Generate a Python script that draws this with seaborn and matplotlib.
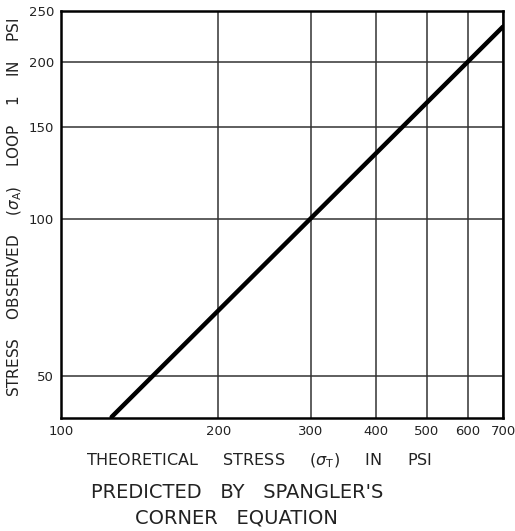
import matplotlib
matplotlib.use("Agg")
import matplotlib.pyplot as plt
from matplotlib.ticker import FixedLocator, NullLocator
import seaborn as sns
import pandas as pd

# Spangler's corner equation: observed stress vs theoretical stress (psi)
theoretical_psi = [125, 700]
observed_psi = [41.7, 233.3]

x_ticks = [100, 200, 300, 400, 500, 600, 700]
y_ticks = [50, 100, 150, 200, 250]

sns.set_theme(style="white")
plt.rcParams["font.family"] = ["DejaVu Sans"]

df = pd.DataFrame({"theoretical": theoretical_psi, "observed": observed_psi})

fig = plt.figure(figsize=(5.15, 5.31), dpi=100)
ax = fig.add_axes([0.1184, 0.2128, 0.8583, 0.7665])

sns.lineplot(data=df, x="theoretical", y="observed", ax=ax,
             color="black", linewidth=3.2, zorder=3)

ax.set_xscale("log")
ax.set_yscale("log")
ax.set_xlim(100, 700)
ax.set_ylim(41.5, 250)

ax.xaxis.set_major_locator(FixedLocator(x_ticks))
ax.yaxis.set_major_locator(FixedLocator(y_ticks))
ax.xaxis.set_minor_locator(NullLocator())
ax.yaxis.set_minor_locator(NullLocator())
ax.set_xticklabels([str(v) for v in x_ticks], fontsize=9.5, color="#222222")
ax.set_yticklabels([str(v) for v in y_ticks], fontsize=9.5, color="#222222")
ax.tick_params(axis="both", length=0, pad=5)

ax.grid(True, which="major", color="#333333", linewidth=1.1)
for s in ax.spines.values():
    s.set_visible(True)
    s.set_color("black")
    s.set_linewidth(1.8)

ax.set_xlabel("")
ax.set_ylabel("")

fig.text(0.502, 0.133, r"THEORETICAL     STRESS     $(\sigma_{\mathrm{T}})$     IN     PSI",
         ha="center", va="center", fontsize=11.5, color="#222222")
fig.text(0.028, 0.61, r"STRESS    OBSERVED    $(\sigma_{\mathrm{A}})$    LOOP    1    IN    PSI",
         ha="center", va="center", rotation=90, fontsize=11, color="#222222")
fig.text(0.460, 0.072, "PREDICTED   BY   SPANGLER'S", ha="center", va="center",
         fontsize=14, color="#222222")
fig.text(0.460, 0.025, "CORNER   EQUATION", ha="center", va="center",
         fontsize=14, color="#222222")

fig.savefig("out.png", dpi=100, facecolor="white")
